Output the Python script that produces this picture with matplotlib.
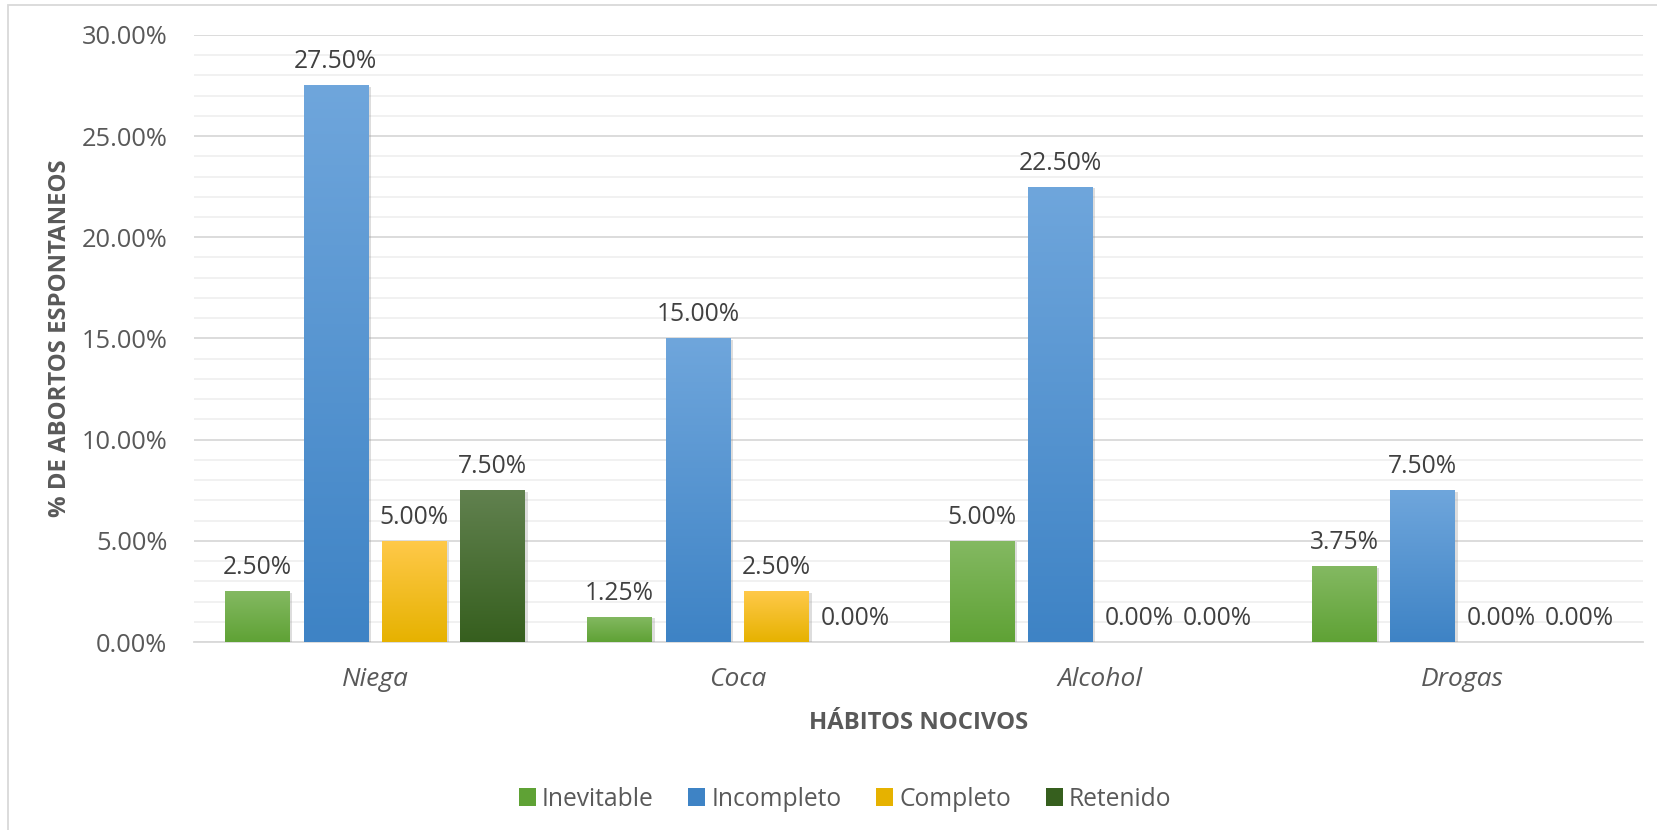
import numpy as np
import matplotlib
matplotlib.use("Agg")
import matplotlib.pyplot as plt
from matplotlib.patches import Rectangle, Patch
from matplotlib.colors import LinearSegmentedColormap
import matplotlib.patheffects as pe

plt.rcParams["font.family"] = ["Open Sans", "DejaVu Sans"]

categorias = ["Niega", "Coca", "Alcohol", "Drogas"]
series = ["Inevitable", "Incompleto", "Completo", "Retenido"]
inevitable = [2.50, 1.25, 5.00, 3.75]
incompleto = [27.50, 15.00, 22.50, 7.50]
completo = [5.00, 2.50, 0.00, 0.00]
retenido = [7.50, 0.00, 0.00, 0.00]

# (top, bottom) gradient colours per series
colores = [
    ("#84b962", "#5fa235"),
    ("#6fa6dc", "#3e83c5"),
    ("#ffc94a", "#e6b200"),
    ("#61814f", "#365f1e"),
]

fig = plt.figure(figsize=(16.57, 8.30), dpi=100)
ax = fig.add_axes([0.117, 0.2265, 0.8746, 0.7315])

# outer chart frame
fig.patches.append(Rectangle((8 / 1657, -0.05), 1.1, 1 - 5 / 830 + 0.05,
                             transform=fig.transFigure, fill=False,
                             edgecolor="#d9d9d9", linewidth=1.3, zorder=0))

x = np.arange(len(categorias))
ancho = 0.178
paso = 0.2165
grad = np.linspace(0, 1, 256).reshape(-1, 1)

for i, (nombre, valores) in enumerate(zip(series, [inevitable, incompleto, completo, retenido])):
    top, bottom = colores[i]
    cmap = LinearSegmentedColormap.from_list(nombre, [bottom, top])
    pos = x + (i - 1.5) * paso
    barras = ax.bar(pos, valores, width=ancho, color=bottom, linewidth=0, zorder=3)
    for b, v in zip(barras, valores):
        if v > 0:
            b.set_path_effects([pe.SimplePatchShadow(offset=(2, -1), shadow_rgbFace="#909090",
                                                     alpha=0.3), pe.Normal()])
            im = ax.imshow(grad, extent=(b.get_x(), b.get_x() + ancho, 0, v), origin="lower",
                           cmap=cmap, aspect="auto", zorder=4, interpolation="bilinear")
            im.set_clip_path(b)
        ax.annotate(f"{v:.2f}%", (b.get_x() + ancho / 2, v), xytext=(0, 8),
                    textcoords="offset points", ha="center", va="bottom",
                    fontsize=17.7, color="#404040", zorder=6)

ax.set_xlim(-0.5, 3.5)
ax.set_ylim(0, 30)
ax.set_yticks(np.arange(0, 31, 5))
ax.set_yticklabels([f"{t:.2f}%" for t in np.arange(0, 31, 5)])
ax.set_yticks(np.arange(0, 31, 1), minor=True)
ax.grid(axis="y", which="major", color="#d9d9d9", linewidth=1.3, zorder=0)
ax.grid(axis="y", which="minor", color="#f0f0f0", linewidth=1.3, zorder=0)
ax.tick_params(axis="y", which="both", length=0, labelsize=18.3, labelcolor="#595959", pad=19)
ax.set_xticks(x)
ax.set_xticklabels(categorias, style="italic")
ax.tick_params(axis="x", length=0, labelsize=19, labelcolor="#595959", pad=18)
for s in ["left", "right", "top"]:
    ax.spines[s].set_visible(False)
ax.spines["bottom"].set_color("#d9d9d9")
ax.spines["bottom"].set_linewidth(1.3)

ax.set_xlabel("HÁBITOS NOCIVOS", fontsize=17.2, fontweight="bold", color="#595959", labelpad=14)
fig.text(60 / 1657, 0.2265 + 0.7315 / 2, "% DE ABORTOS ESPONTANEOS", rotation=90,
         ha="center", va="center", fontsize=17.2, fontweight="bold", color="#595959")

handles = [Patch(facecolor=c[1], edgecolor="none") for c in colores]
leg = fig.legend(handles, series, loc="center", bbox_to_anchor=(0.51, 1 - 799 / 830), ncol=4,
                 frameon=False, fontsize=17.7, handlelength=0.7, handleheight=0.7,
                 handletextpad=0.25, columnspacing=1.4)
for t in leg.get_texts():
    t.set_color("#595959")

fig.savefig("out.png", dpi=100, facecolor="white")
